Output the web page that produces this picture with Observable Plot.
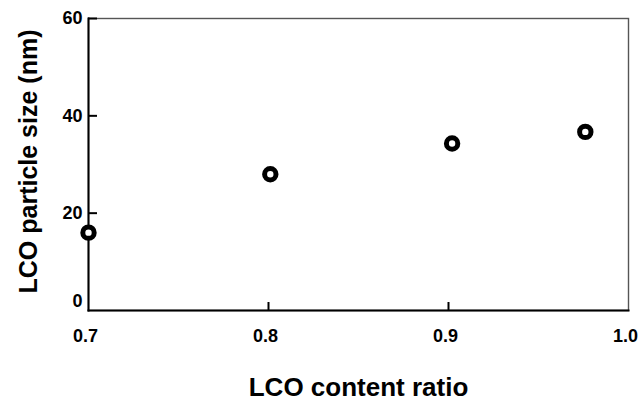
<!DOCTYPE html>
<html><head><meta charset="utf-8">
<script src="https://cdn.jsdelivr.net/npm/d3@7"></script>
<script src="https://cdn.jsdelivr.net/npm/@observablehq/plot@0.6"></script>
<style>body{margin:0;background:#fff}</style>
</head><body><div id="chart"></div>
<script>
const contentRatio = [0.7, 0.801, 0.902, 0.976];
const particleSize = [16.0, 28.0, 34.3, 36.7];
const xTicks = [0.7, 0.8, 0.9, 1.0];
const xInnerTicks = [0.8, 0.9];
const yTicks = [20, 40, 60];
const yZeroTick = [0];
const xTitle = "LCO content ratio";
const yTitle = "LCO particle size (nm)";

const data = contentRatio.map((x, i) => ({x, y: particleSize[i]}));
const font = "'Liberation Sans', Arial, sans-serif";

const chart = Plot.plot({
  width: 643, height: 400,
  marginLeft: 88, marginRight: 15, marginTop: 18, marginBottom: 90,
  style: {fontFamily: font, background: "white", color: "black", overflow: "visible"},
  x: {domain: [0.7, 1.0]},
  y: {domain: [0, 60]},
  marks: [
    Plot.frame({stroke: "#555", strokeWidth: 1.4}),
    Plot.frame({anchor: "left", stroke: "black", strokeWidth: 2}),
    Plot.frame({anchor: "bottom", stroke: "black", strokeWidth: 2}),
    Plot.axisX({ticks: xInnerTicks, tickSize: -8, strokeWidth: 2, text: null, label: null}),
    Plot.axisX({ticks: xTicks, tickSize: 0, tickPadding: 19, dx: -3, tickFormat: d3.format(".1f"),
      fontSize: 18, fontWeight: "bold", fill: "black", label: null}),
    Plot.axisY({ticks: yTicks, tickSize: -9, tickPadding: 15, strokeWidth: 2, fontSize: 18,
      fontWeight: "bold", fill: "black", label: null}),
    Plot.axisY({ticks: yZeroTick, tickSize: 0, tickPadding: 6, dy: -9, fontSize: 18,
      fontWeight: "bold", fill: "black", label: null}),
    Plot.text([xTitle], {frameAnchor: "bottom", textAnchor: "middle", lineAnchor: "middle", dy: 77,
      fontSize: 26, fontWeight: "bold", fill: "black"}),
    Plot.text([yTitle], {frameAnchor: "left", textAnchor: "middle", lineAnchor: "middle", rotate: -90,
      dx: -60, dy: -3, fontSize: 25, fontWeight: "bold", fill: "black"}),
    Plot.dot(data, {x: "x", y: "y", r: 5.7, stroke: "black", strokeWidth: 5, fill: "white"})
  ]
});
document.getElementById("chart").appendChild(chart);
</script>
</body></html>
